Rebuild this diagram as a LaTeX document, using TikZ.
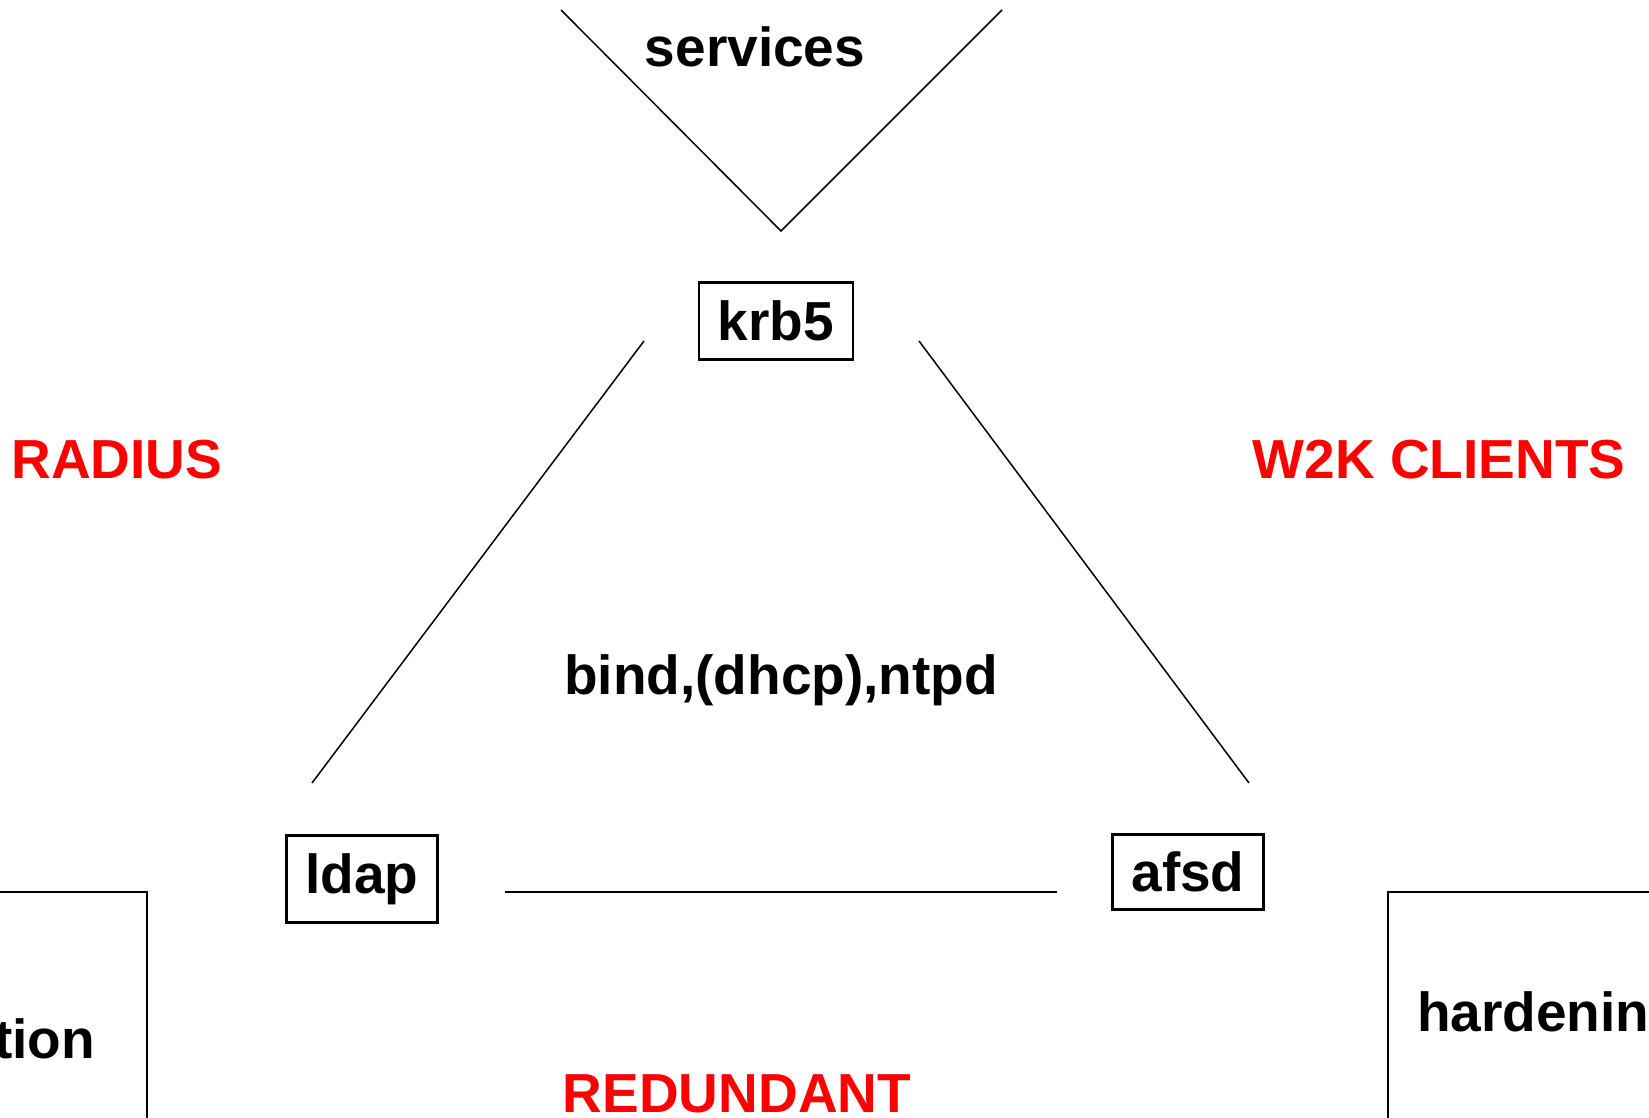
\documentclass[tikz,border=0pt]{standalone}
\usepackage{fontspec}
\setmainfont{Liberation Sans}
\tikzset{
  lbl/.style={font=\fontsize{55}{66}\selectfont\bfseries, inner sep=0pt},
  redlbl/.style={lbl, text=red},
  srvbox/.style={lbl, draw, line width=2.5pt},
  conn/.style={line width=1.5pt}
}
\begin{document}
\begin{tikzpicture}[x=1pt,y=-1pt]
	\useasboundingbox (0,0) rectangle (1649,1118);
	\clip (0,0) rectangle (1649,1118);
	% servers
	\node[srvbox, minimum width=154pt, minimum height=77pt] (krb5) at (776,321) {krb5};
	\node[srvbox, minimum width=151pt, minimum height=87pt] (ldap) at (362,879) {ldap};
	\node[srvbox, minimum width=151pt, minimum height=75pt] (afsd) at (1188,872) {afsd};
	% ends of the lines
	\coordinate (vl) at (561,10);
	\coordinate (vb) at (781,231);
	\coordinate (vr) at (1002,10);
	\coordinate (kl) at (644,341);
	\coordinate (lt) at (312,783);
	\coordinate (kr) at (919,341);
	\coordinate (at) at (1249,783);
	\coordinate (lr) at (505,892);
	\coordinate (al) at (1057,892);
	\draw[conn] (vl) -- (vb) -- (vr);
	\draw[conn] (kl) -- (lt);
	\draw[conn] (kr) -- (at);
	\draw[conn] (lr) -- (al);
	% side boxes
	\draw[conn] (-10,892) -- (147,892) -- (147,1130);
	\draw[conn] (1660,892) -- (1388,892) -- (1388,1130);
	% labels
	\node[lbl] (services) at (755,47) {services};
	\node[lbl] (bind) at (781,680) {bind,(dhcp),ntpd};
	\node[redlbl] (radius) at (117,460) {RADIUS};
	\node[redlbl] (w2k) at (1439,460) {W2K CLIENTS};
	\node[redlbl] (redundant) at (737,1094) {REDUNDANT};
	\node[lbl, anchor=east] (tion) at (95,1039) {tion};
	\node[lbl, anchor=west] (hardening) at (1417,1012) {hardenin};
\end{tikzpicture}
\end{document}
